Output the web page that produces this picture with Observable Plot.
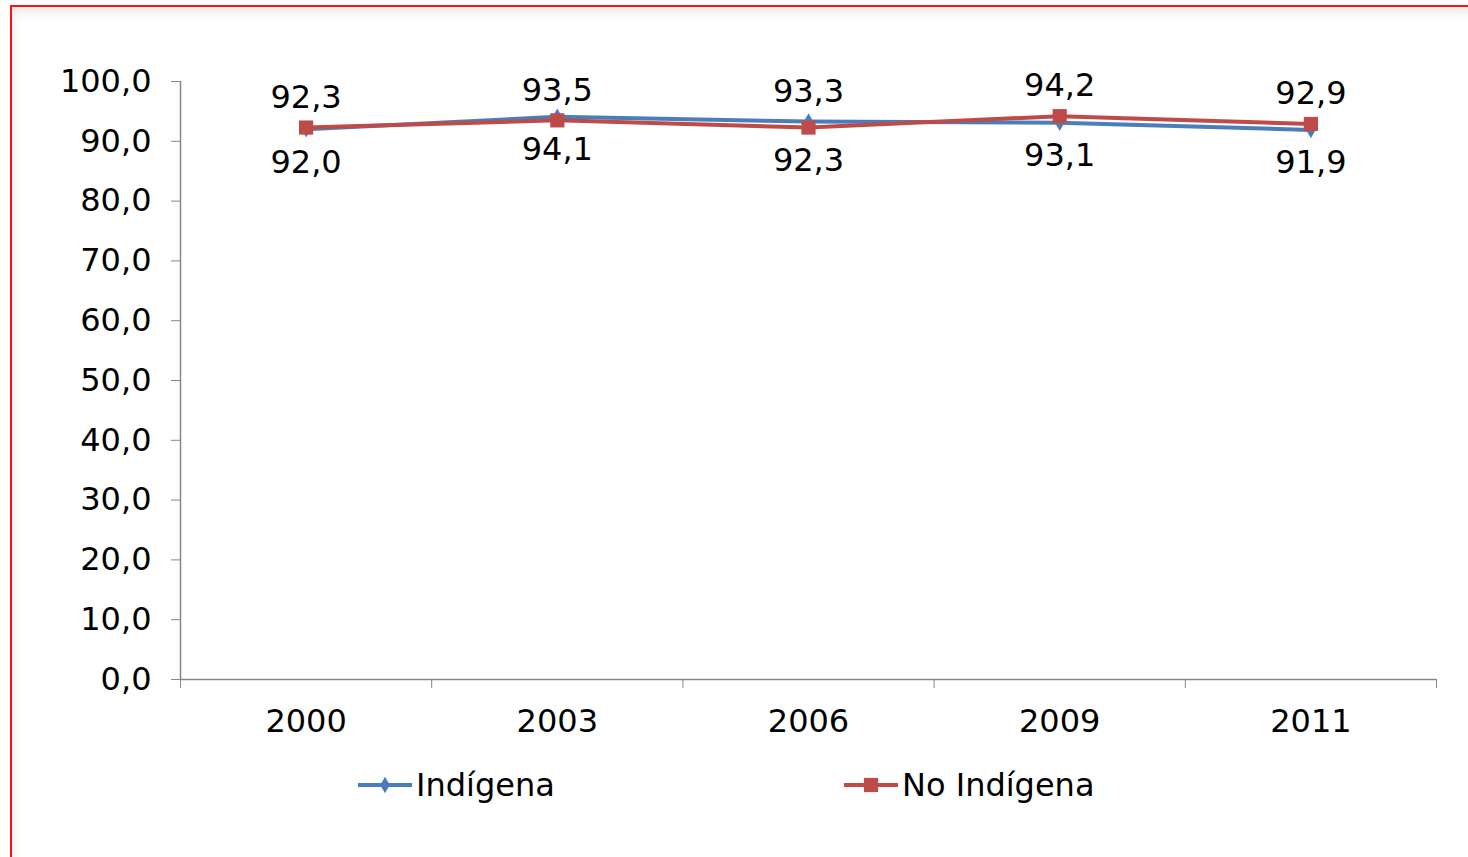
<!DOCTYPE html>
<html>
<head>
<meta charset="utf-8">
<script src="https://cdn.jsdelivr.net/npm/d3@7"></script>
<script src="https://cdn.jsdelivr.net/npm/@observablehq/plot@0.6"></script>
<style>
  html, body { margin: 0; padding: 0; background: #fff; width: 1468px; height: 857px; overflow: hidden; }
  #frame { position: absolute; left: 10px; top: 5px; width: 1470px; height: 870px;
           border-left: 2px solid #ff1010; border-top: 2px solid #ff1010;
           box-shadow: inset 6px 10px 12px -6px rgba(0,0,0,0.10); }
  #chart { position: absolute; left: 0; top: 0; }
  .legend { position: absolute; top: 766px; font-family: "DejaVu Sans", Verdana, sans-serif; font-size: 32px; color: #000; display: flex; align-items: center; }
  .legend svg { margin-right: 3px; }
</style>
</head>
<body>
<div id="frame"></div>
<div id="chart"></div>
<div class="legend" id="leg1" style="left:357px;"></div>
<div class="legend" id="leg2" style="left:843px;"></div>
<script>
const years = ["2000", "2003", "2006", "2009", "2011"];
const indigena = [92.0, 94.1, 93.3, 93.1, 91.9];
const noIndigena = [92.3, 93.5, 92.3, 94.2, 92.9];
const seriesNames = ["Indígena", "No Indígena"];
const yTicks = [0, 10, 20, 30, 40, 50, 60, 70, 80, 90, 100];
// years where the Indígena label sits above the point and No Indígena below
const swappedLabelYears = ["2006"];

const blue = "#4A7EBB";
const red = "#BE4B48";
const fmt = v => v.toFixed(1).replace(".", ",");

const rows = [];
years.forEach((y, i) => {
  rows.push({i, year: y, series: seriesNames[0], value: indigena[i]});
  rows.push({i, year: y, series: seriesNames[1], value: noIndigena[i]});
});
const labelAbove = d => {
  const swapped = swappedLabelYears.includes(d.year);
  return (d.series === seriesNames[1]) !== swapped;
};
const indRows = rows.filter(d => d.series === seriesNames[0]);
const noRows = rows.filter(d => d.series === seriesNames[1]);

const font = '"DejaVu Sans", Verdana, sans-serif';
const fs = 32;
const chart = Plot.plot({
  width: 1468,
  height: 740,
  marginLeft: 180,
  marginRight: 32,
  marginTop: 81,
  marginBottom: 61,
  style: {fontFamily: font, fontSize: fs + "px", color: "#000", background: "transparent", overflow: "visible"},
  x: {type: "linear", domain: [-0.5, years.length - 0.5]},
  y: {domain: [0, 100]},
  marks: [
    Plot.axisY({ticks: yTicks, tickFormat: fmt, tickSize: 9, tickPadding: 20, stroke: "#868686", label: null, fontSize: fs}),
    Plot.ruleX([-0.5], {stroke: "#868686", strokeWidth: 1.5}),
    Plot.ruleY([0], {stroke: "#868686", strokeWidth: 1.5}),
    Plot.axisX({ticks: d3.range(years.length + 1).map(k => k - 0.5), tickFormat: () => "", tickSize: 9, stroke: "#868686", label: null}),
    Plot.axisX({ticks: d3.range(years.length), tickFormat: k => years[k], tickSize: 0, tickPadding: 30, label: null, fontSize: fs}),
    Plot.line(indRows, {x: "i", y: "value", stroke: blue, strokeWidth: 4}),
    Plot.dot(indRows, {x: "i", y: "value", symbol: "diamond", r: 5, fill: blue}),
    Plot.line(noRows, {x: "i", y: "value", stroke: red, strokeWidth: 4}),
    Plot.dot(noRows, {x: "i", y: "value", symbol: "square", r: 8, fill: red}),
    Plot.text(rows.filter(labelAbove), {x: "i", y: "value", text: d => fmt(d.value), dy: -30, fill: "#000", fontSize: fs}),
    Plot.text(rows.filter(d => !labelAbove(d)), {x: "i", y: "value", text: d => fmt(d.value), dy: 33, fill: "#000", fontSize: fs})
  ]
});
document.getElementById("chart").appendChild(chart);

function swatch(color, symbol) {
  const ns = "http://www.w3.org/2000/svg";
  const s = document.createElementNS(ns, "svg");
  s.setAttribute("width", 56); s.setAttribute("height", 30);
  const l = document.createElementNS(ns, "line");
  l.setAttribute("x1", 1); l.setAttribute("x2", 55); l.setAttribute("y1", 15); l.setAttribute("y2", 15);
  l.setAttribute("stroke", color); l.setAttribute("stroke-width", 4);
  s.appendChild(l);
  const p = document.createElementNS(ns, "path");
  const sym = symbol === "diamond" ? d3.symbol(d3.symbolDiamond, 5 * 5 * Math.PI) : d3.symbol(d3.symbolSquare, 8 * 8 * Math.PI);
  p.setAttribute("d", sym());
  p.setAttribute("transform", "translate(28,15)");
  p.setAttribute("fill", color);
  s.appendChild(p);
  return s;
}
const l1 = document.getElementById("leg1");
l1.appendChild(swatch(blue, "diamond"));
l1.appendChild(document.createTextNode(seriesNames[0]));
const l2 = document.getElementById("leg2");
l2.appendChild(swatch(red, "square"));
l2.appendChild(document.createTextNode(seriesNames[1]));
</script>
</body>
</html>
